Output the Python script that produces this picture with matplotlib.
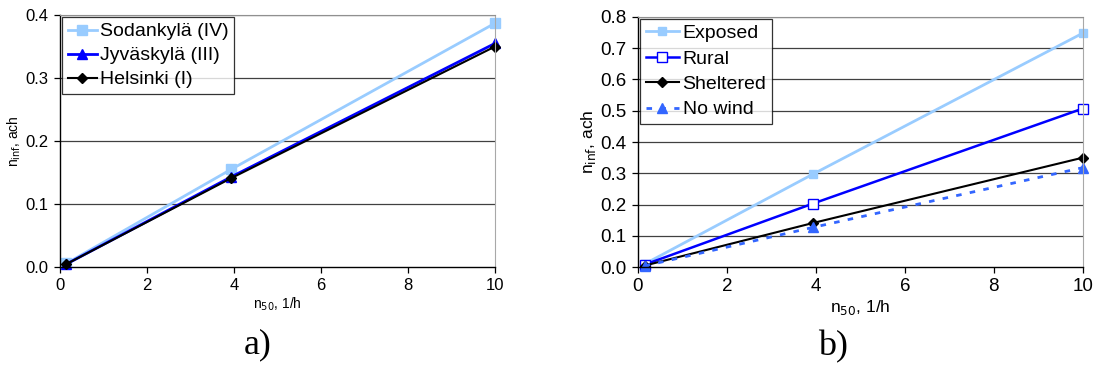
import matplotlib.pyplot as plt

plt.rcParams['font.family'] = ['Liberation Sans', 'DejaVu Sans']

# data
n50 = [0.15, 3.93, 10.0]

sodankyla = [0.006, 0.155, 0.387]
jyvaskyla = [0.005, 0.143, 0.355]
helsinki = [0.005, 0.141, 0.350]

exposed = [0.010, 0.297, 0.748]
rural = [0.008, 0.203, 0.507]
sheltered = [0.005, 0.141, 0.350]
no_wind = [0.004, 0.127, 0.318]

left_yticks = [0.0, 0.1, 0.2, 0.3, 0.4]
right_yticks = [0.0, 0.1, 0.2, 0.3, 0.4, 0.5, 0.6, 0.7, 0.8]
xticks = [0, 2, 4, 6, 8, 10]

LIGHT = '#99CCFF'
BLUE = '#0000FF'
NOWIND = '#3366FF'


def style_ax(ax, yticks, ylim, tick_fs, lab_fs):
    ax.set_xlim(0, 10)
    ax.set_ylim(*ylim)
    ax.set_xticks(xticks)
    ax.set_yticks(yticks)
    ax.set_yticklabels([f'{v:.1f}' for v in yticks])
    for y in yticks[1:]:
        ax.axhline(y, color='#404040', lw=0.9, zorder=0)
    ax.spines['top'].set_color('#909090')
    ax.spines['right'].set_color('#A8A8A8')
    ax.spines['left'].set_linewidth(1.0)
    ax.spines['bottom'].set_linewidth(1.0)
    ax.tick_params(direction='out', length=4, width=0.9, labelsize=tick_fs, pad=4)
    ax.set_xlabel('n$_{\\mathrm{50}}$, 1/h', fontsize=lab_fs, labelpad=2)
    ax.set_ylabel('n$_{\\mathrm{inf}}$, ach', fontsize=lab_fs, labelpad=2)


fig = plt.figure(figsize=(10.96, 3.66), dpi=100)

ax1 = fig.add_axes([0.0547, 0.270, 0.397, 0.689])
ax1.plot(n50, sodankyla, color=LIGHT, lw=2, marker='s', ms=6.5, clip_on=False, label='Sodankylä (IV)')
ax1.plot(n50, jyvaskyla, color=BLUE, lw=2, marker='^', ms=6.5, clip_on=False, label='Jyväskylä (III)')
ax1.plot(n50, helsinki, color='black', lw=1.5, marker='D', ms=5, clip_on=False, label='Helsinki (I)')
style_ax(ax1, left_yticks, (0, 0.4), 12, 10)
leg1 = ax1.legend(loc='upper left', fontsize=14, frameon=True, fancybox=False,
                  edgecolor='black', borderaxespad=0.1, handlelength=1.5,
                  handletextpad=0.15, borderpad=0.3, labelspacing=0.33)
leg1.get_frame().set_linewidth(0.9)

ax2 = fig.add_axes([0.582, 0.270, 0.406, 0.684])
ax2.plot(n50, exposed, color=LIGHT, lw=2, marker='s', ms=5.5, clip_on=False, label='Exposed')
ax2.plot(n50, rural, color=BLUE, lw=1.8, marker='s', ms=7, mfc='white', mec=BLUE,
         clip_on=False, label='Rural')
ax2.plot(n50, sheltered, color='black', lw=1.5, marker='D', ms=5.5, clip_on=False, label='Sheltered')
ax2.plot(n50, no_wind, color=NOWIND, lw=2, ls=(0, (2, 3)), marker='^', ms=7,
         clip_on=False, label='No wind')
style_ax(ax2, right_yticks, (0, 0.8), 13.5, 12.5)
leg2 = ax2.legend(loc='upper left', fontsize=14, frameon=True, fancybox=False,
                  edgecolor='black', borderaxespad=0.1, handlelength=1.7,
                  handletextpad=0.2, borderpad=0.3, labelspacing=0.4)
leg2.get_frame().set_linewidth(0.9)

fig.text(0.235, 0.058, 'a)', fontsize=26, family='Liberation Serif', ha='center', va='center')
fig.text(0.760, 0.052, 'b)', fontsize=26, family='Liberation Serif', ha='center', va='center')

fig.savefig('out.png', dpi=100)
